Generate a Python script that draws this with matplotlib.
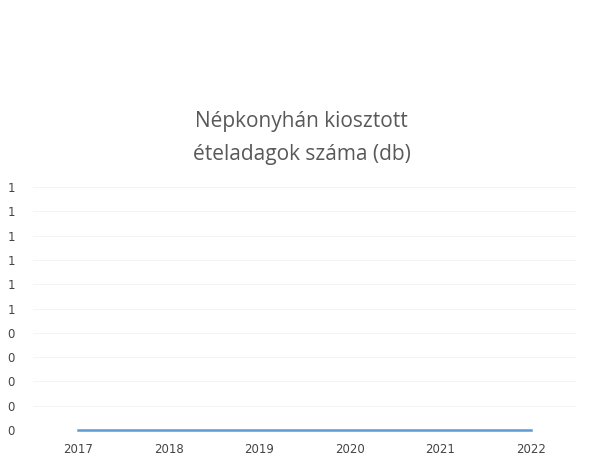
import matplotlib
matplotlib.use("Agg")
import matplotlib.pyplot as plt

# adatok a képről
evek = ["2017", "2018", "2019", "2020", "2021", "2022"]
adagok = [0, 0, 0, 0, 0, 0]
y_tickek = [0, 0.1, 0.2, 0.3, 0.4, 0.5, 0.6, 0.7, 0.8, 0.9, 1.0]
y_feliratok = ["0", "0", "0", "0", "0", "1", "1", "1", "1", "1", "1"]

fig = plt.figure(figsize=(6.03, 4.61), dpi=100)
ax = fig.add_axes([33 / 603, 1 - 430 / 461, 543 / 603, 243 / 461])

ax.plot(range(len(evek)), adagok, color="#5B9BD5", linewidth=1.8,
        zorder=5, clip_on=False)

ax.set_xlim(-0.5, len(evek) - 0.5)
ax.set_ylim(0, 1)
ax.set_xticks(range(len(evek)))
ax.set_xticklabels(evek, fontsize=8.5, color="#444444", family="DejaVu Sans")
ax.set_yticks(y_tickek)
ax.set_yticklabels(y_feliratok, fontsize=8.5, color="#444444", family="DejaVu Sans")
ax.tick_params(length=0)
ax.tick_params(axis="x", pad=9)
ax.tick_params(axis="y", pad=13)
ax.yaxis.grid(True, color="#f2f2f2", linewidth=0.6)
ax.set_axisbelow(True)
for s in ax.spines.values():
    s.set_visible(False)

fig.text(0.5, 1 - 138 / 461, "Népkonyhán kiosztott\nételadagok száma (db)",
         ha="center", va="center", fontsize=15, color="#595959",
         family="Open Sans", linespacing=1.75)

fig.savefig("out.png", dpi=100)
